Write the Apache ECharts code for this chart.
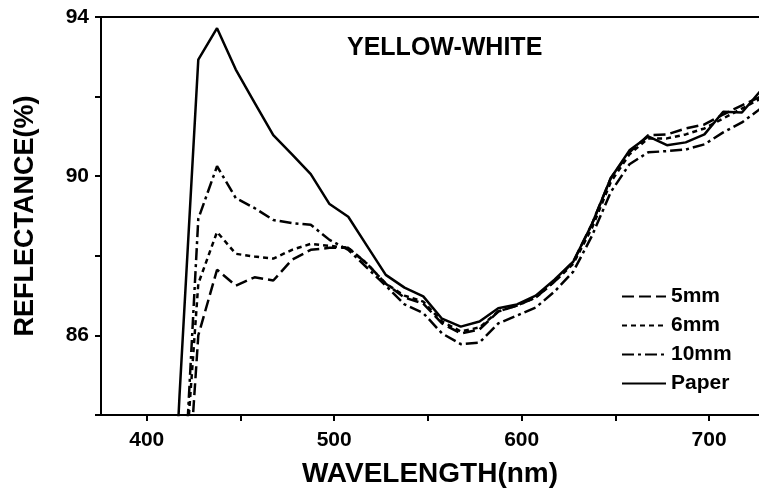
<!DOCTYPE html>
<html><head><meta charset="utf-8">
<script src="https://cdn.jsdelivr.net/npm/echarts@6/dist/echarts.min.js"></script>
<style>html,body{margin:0;padding:0;background:#fff}#c{width:759px;height:494px}</style>
</head><body><div id="c"></div>
<script>
const wavelengths = [407.5,417.5,427.5,437.5,447.5,457.5,467.5,477.5,487.5,497.5,507.5,517.5,527.5,537.5,547.5,557.5,567.5,577.5,587.5,597.5,607.5,617.5,627.5,637.5,647.5,657.5,667.5,677.5,687.5,697.5,707.5,717.5,727.5];
const mm5   = [70,78.9,86.0,87.65,87.25,87.46,87.38,87.9,88.15,88.2,88.2,87.8,87.3,86.95,86.8,86.3,86.05,86.15,86.6,86.75,86.95,87.35,87.85,88.8,89.95,90.6,91.03,91.05,91.2,91.3,91.55,91.78,92.0];
const mm6   = [70,80.7,87.3,88.6,88.05,87.98,87.93,88.15,88.3,88.25,88.2,87.8,87.3,87.0,86.85,86.35,86.1,86.2,86.6,86.75,86.95,87.35,87.8,88.7,89.85,90.55,90.95,90.95,91.05,91.2,91.45,91.7,91.95];
const mm10  = [70,80.0,88.93,90.25,89.45,89.2,88.9,88.82,88.78,88.4,88.15,87.7,87.25,86.78,86.56,86.05,85.78,85.82,86.3,86.5,86.7,87.1,87.6,88.5,89.6,90.3,90.6,90.63,90.67,90.8,91.1,91.35,91.7];
const paper = [75,84.5,92.93,93.72,92.68,91.85,91.03,90.55,90.05,89.3,88.98,88.25,87.52,87.2,86.98,86.42,86.22,86.35,86.68,86.78,87.0,87.4,87.85,88.8,89.95,90.65,91.0,90.78,90.85,91.05,91.62,91.6,92.15];
const seriesNames = ['5mm','6mm','10mm','Paper'];
const xTicks = [400,450,500,550,600,650,700];
const xLabels = [400,500,600,700];
const yLabels = [86,90,94];
const title = 'YELLOW-WHITE';

const FONT = 'Liberation Sans, Arial, sans-serif';
const pairs = a => wavelengths.map((w,i)=>[w,a[i]]);
const dashes = [[12,5],[5,4],[12,4,3,4],'solid'];
const data = [mm5,mm6,mm10,paper];

const chart = echarts.init(document.getElementById('c'));
chart.setOption({
  animation:false,
  backgroundColor:'#fff',
  title:{text:title,left:342,top:31,textStyle:{fontFamily:FONT,fontSize:25,fontWeight:'bold',color:'#000'}},
  grid:{left:101,top:17,right:0,bottom:79,containLabel:false},
  legend:{
    orient:'vertical',left:616,top:281,itemWidth:44,itemHeight:14,itemGap:8,
    itemStyle:{opacity:0},
    textStyle:{fontFamily:FONT,fontSize:21,fontWeight:'bold',color:'#000'},
    data:seriesNames
  },
  xAxis:[{
    type:'value',min:375.6,max:726.6,
    name:'WAVELENGTH(nm)',nameLocation:'middle',nameGap:45,
    nameTextStyle:{fontFamily:FONT,fontSize:28,fontWeight:'bold',color:'#000'},
    axisLine:{lineStyle:{color:'#000',width:2}},
    axisTick:{show:true,inside:false,length:6,lineStyle:{width:2,color:'#000'},customValues:xTicks},
    axisLabel:{customValues:xLabels,fontFamily:FONT,fontSize:21,fontWeight:'bold',color:'#000',margin:15},
    splitLine:{show:false}
  },{
    type:'value',position:'top',min:375.6,max:726.6,
    axisLine:{show:true,lineStyle:{color:'#000',width:2}},
    axisTick:{show:false},axisLabel:{show:false},splitLine:{show:false}
  }],
  yAxis:{
    type:'value',min:84,max:94,interval:2,
    name:'REFLECTANCE(%)',nameLocation:'middle',nameGap:62,nameRotate:90,
    nameTextStyle:{fontFamily:FONT,fontSize:27,fontWeight:'bold',color:'#000'},
    axisLine:{show:true,lineStyle:{color:'#000',width:2}},
    axisTick:{show:true,length:6,lineStyle:{width:2,color:'#000'}},
    axisLabel:{customValues:yLabels,fontFamily:FONT,fontSize:21,fontWeight:'bold',color:'#000',margin:12},
    splitLine:{show:false}
  },
  series:seriesNames.map((n,i)=>({
    name:n,type:'line',data:pairs(data[i]),showSymbol:false,symbol:'none',clip:true,
    lineStyle:{color:'#000',width:2.5,type:dashes[i]},
    itemStyle:{color:'#000'}
  }))
});
</script></body></html>
